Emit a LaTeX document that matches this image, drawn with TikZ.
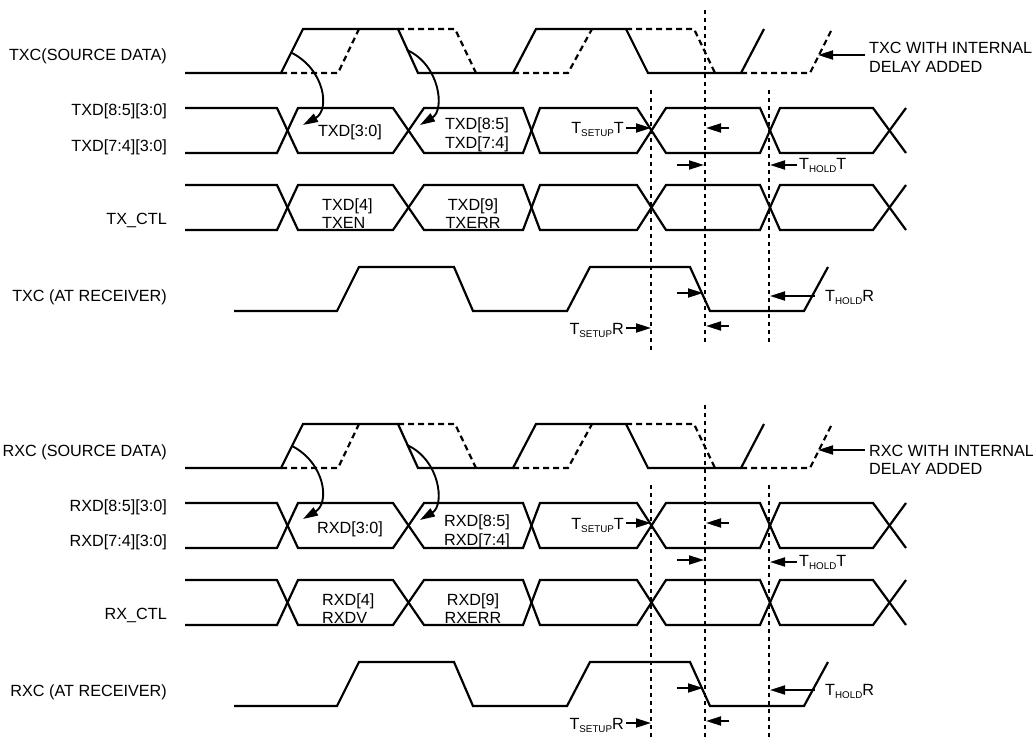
\documentclass[tikz,border=0pt]{standalone}
\usepackage{fontspec}
\setmainfont{Liberation Sans}
\usetikzlibrary{arrows.meta}
\newcommand{\tsub}[2]{T\raisebox{-3pt}{\fontsize{9.8}{10}\selectfont #1}#2}

\tikzset{
  wave/.style={line width=2.2pt},
  delayed/.style={line width=2.2pt, dash pattern=on 6pt off 4pt},
  marker/.style={line width=2.2pt, dash pattern=on 4pt off 4pt},
  tarrow/.style={line width=1.9pt, -{Triangle[length=15pt,width=9pt]}},
  sig/.style={anchor=base east},
}

\begin{document}
\begin{tikzpicture}[x=1pt,y=-1pt,every node/.style={inner sep=0pt,font=\fontsize{16.2}{19}\selectfont}]
\useasboundingbox (0,0) rectangle (1033,741);
%
% transmit side
%
\begin{scope}
\draw[wave] (185,73) -- (281,73) -- (303,29) -- (398,29) -- (418,73) -- (513,73) -- (536,29) -- (626,29) -- (648,73) -- (741,73) -- (764,29);
\draw[delayed] (281,73) -- (338,73) -- (359,29);
\draw[delayed] (398,29) -- (455,29) -- (476,73);
\draw[delayed] (513,73) -- (568,73) -- (592,29);
\draw[delayed] (626,29) -- (694,29) -- (715,73);
\draw[delayed] (741,73) -- (810,73) -- (832,29);
%
\foreach \ya/\yb in {108/153,185/230} {
  \draw[wave] (185,\ya) -- (277,\ya) -- (298,\yb) -- (393,\yb) -- (424,\ya) -- (523,\ya) -- (540,\yb) -- (637,\yb) -- (666,\ya) -- (760,\ya) -- (780,\yb) -- (873,\yb) -- (906,\ya);
  \draw[wave] (185,\yb) -- (277,\yb) -- (298,\ya) -- (393,\ya) -- (424,\yb) -- (523,\yb) -- (540,\ya) -- (637,\ya) -- (666,\yb) -- (760,\yb) -- (780,\ya) -- (873,\ya) -- (906,\yb);
}
\draw[wave] (234,311) -- (337,311) -- (359,267) -- (454,267) -- (473,311) -- (567,311) -- (590,267) -- (690,267) -- (710,311) -- (804,311) -- (828,267);
%
\draw[marker] (651,90) -- (651,352);
\draw[marker] (705,10) -- (705,345);
\draw[marker] (769,90) -- (769,345);
%
\draw[tarrow] (292,53) .. controls (325,70) and (330,110) .. (303,125);
\draw[tarrow] (407,50) .. controls (440,65) and (445,110) .. (420,125);
%
\node[sig] (txsrc) at (167,61) {TXC(SOURCE DATA)};
\node[sig] (txdhi) at (167,116) {TXD[8:5][3:0]};
\node[sig] (txdlo) at (167,151) {TXD[7:4][3:0]};
\node[sig] (txctl) at (167,224) {TX\_CTL};
\node[sig] (txrcv) at (167,301) {TXC (AT RECEIVER)};
%
\node[anchor=base] (txd30) at (350,137) {TXD[3:0]};
\node[anchor=base] (txd85) at (477,129) {TXD[8:5]};
\node[anchor=base] (txd74) at (477,149) {TXD[7:4]};
\node[anchor=base west] (txd4) at (322,210) {TXD[4]};
\node[anchor=base west] (txen) at (322,228) {TXEN};
\node[anchor=base] (txd9) at (473,210) {TXD[9]};
\node[anchor=base] (txerr) at (473,228) {TXERR};
%
\node[anchor=base west] (txdly) at (869,54) {TXC WITH INTERNAL};
\node[anchor=base west] (txdly2) at (869,73) {DELAY ADDED};
\draw[tarrow] (865,55) -- (818,55);
%
\node[anchor=base east] (tsuT) at (624,134) {\tsub{SETUP}{T}};
\draw[tarrow] ([xshift=2pt]tsuT.east |- 0,128) -- (651,128);
\draw[tarrow] (729,128) -- (706,128);
\draw[tarrow] (677,165) -- (704,165);
\node[anchor=base west] (thdT) at (799,169) {\tsub{HOLD}{T}};
\draw[tarrow] (797,165) -- (770,165);
%
\draw[tarrow] (677,293) -- (703,293);
\node[anchor=base west] (thdR) at (825,301) {\tsub{HOLD}{R}};
\draw[tarrow] (815,296) -- (770,296);
\node[anchor=base east] (tsuR) at (624,334) {\tsub{SETUP}{R}};
\draw[tarrow] ([xshift=2pt]tsuR.east |- 0,328) -- (651,328);
\draw[tarrow] (729,326) -- (706,326);
\end{scope}
%
% receive side
%
\begin{scope}[yshift=-395pt]
\draw[wave] (185,73) -- (281,73) -- (303,29) -- (398,29) -- (418,73) -- (513,73) -- (536,29) -- (626,29) -- (648,73) -- (741,73) -- (764,29);
\draw[delayed] (281,73) -- (338,73) -- (359,29);
\draw[delayed] (398,29) -- (455,29) -- (476,73);
\draw[delayed] (513,73) -- (568,73) -- (592,29);
\draw[delayed] (626,29) -- (694,29) -- (715,73);
\draw[delayed] (741,73) -- (810,73) -- (832,29);
%
\foreach \ya/\yb in {108/153,185/230} {
  \draw[wave] (185,\ya) -- (277,\ya) -- (298,\yb) -- (393,\yb) -- (424,\ya) -- (523,\ya) -- (540,\yb) -- (637,\yb) -- (666,\ya) -- (760,\ya) -- (780,\yb) -- (873,\yb) -- (906,\ya);
  \draw[wave] (185,\yb) -- (277,\yb) -- (298,\ya) -- (393,\ya) -- (424,\yb) -- (523,\yb) -- (540,\ya) -- (637,\ya) -- (666,\yb) -- (760,\yb) -- (780,\ya) -- (873,\ya) -- (906,\yb);
}
\draw[wave] (234,311) -- (337,311) -- (359,267) -- (454,267) -- (473,311) -- (567,311) -- (590,267) -- (690,267) -- (710,311) -- (804,311) -- (828,267);
%
\draw[marker] (651,90) -- (651,346);
\draw[marker] (705,10) -- (705,346);
\draw[marker] (769,90) -- (769,346);
%
\draw[tarrow] (292,51) .. controls (325,68) and (330,108) .. (303,124);
\draw[tarrow] (407,50) .. controls (440,65) and (445,110) .. (420,125);
%
\node[sig] (rxsrc) at (167,61) {RXC (SOURCE DATA)};
\node[sig] (rxdhi) at (167,116) {RXD[8:5][3:0]};
\node[sig] (rxdlo) at (167,151) {RXD[7:4][3:0]};
\node[sig] (rxctl) at (167,224) {RX\_CTL};
\node[sig] (rxrcv) at (167,301) {RXC (AT RECEIVER)};
%
\node[anchor=base] (rxd30) at (350,138) {RXD[3:0]};
\node[anchor=base] (rxd85) at (477,131) {RXD[8:5]};
\node[anchor=base] (rxd74) at (477,150) {RXD[7:4]};
\node[anchor=base west] (rxd4) at (322,210) {RXD[4]};
\node[anchor=base west] (rxdv) at (322,228) {RXDV};
\node[anchor=base] (rxd9) at (473,210) {RXD[9]};
\node[anchor=base] (rxerr) at (473,228) {RXERR};
%
\node[anchor=base west] (rxdly) at (869,61) {RXC WITH INTERNAL};
\node[anchor=base west] (rxdly2) at (869,79) {DELAY ADDED};
\draw[tarrow] (865,55) -- (818,55);
%
\node[anchor=base east] (rsuT) at (624,134) {\tsub{SETUP}{T}};
\draw[tarrow] ([xshift=2pt]rsuT.east |- 0,128) -- (651,128);
\draw[tarrow] (729,128) -- (706,128);
\draw[tarrow] (677,165) -- (704,165);
\node[anchor=base west] (rhdT) at (799,171) {\tsub{HOLD}{T}};
\draw[tarrow] (797,167) -- (770,167);
%
\draw[tarrow] (677,293) -- (703,293);
\node[anchor=base west] (rhdR) at (825,300) {\tsub{HOLD}{R}};
\draw[tarrow] (815,295) -- (770,295);
\node[anchor=base east] (rsuR) at (624,334) {\tsub{SETUP}{R}};
\draw[tarrow] ([xshift=2pt]rsuR.east |- 0,328) -- (651,328);
\draw[tarrow] (729,326) -- (706,326);
\end{scope}
\end{tikzpicture}
\end{document}
